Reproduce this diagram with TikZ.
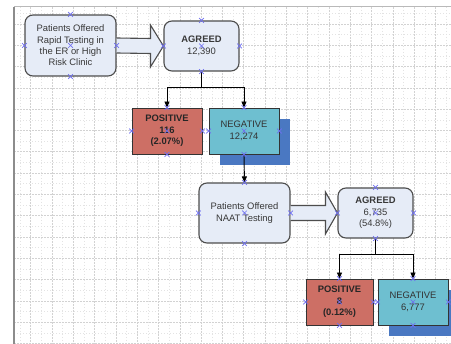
\documentclass[tikz,border=0pt]{standalone}
\usepackage{fontspec}
\setmainfont{Liberation Sans}
\usetikzlibrary{arrows.meta,calc,shapes.misc,shadows}
\definecolor{boxfill}{HTML}{E6ECF7}
\definecolor{boxline}{HTML}{4D4D4D}
\definecolor{posfill}{HTML}{CD6F65}
\definecolor{negfill}{HTML}{6EBFD0}
\definecolor{shadowblue}{HTML}{4A78C2}
\definecolor{markblue}{HTML}{6F6FF2}
\definecolor{txt}{HTML}{383838}
\begin{document}
\begin{tikzpicture}[x=1pt,y=-1pt,
  basefont/.style={font=\fontsize{9.4}{11.4}\selectfont},
  roundbox/.style={draw=boxline,line width=1.1pt,fill=boxfill,rounded corners=8pt,
    align=center,inner sep=0pt,text=txt,basefont},
  posbox/.style={draw=black!80,line width=0.9pt,fill=posfill,align=center,inner sep=0pt,
    text=black!85,font=\bfseries\fontsize{9.4}{11.4}\selectfont},
  negbox/.style={draw=black!80,line width=0.9pt,fill=negfill,align=center,inner sep=0pt,
    text=black!80,basefont,
    drop shadow={shadow xshift=11pt,shadow yshift=-11pt,fill=shadowblue,opacity=1}},
  blockarrow/.style={draw=boxline,line width=1.1pt,fill=boxfill,line join=miter},
  conn/.style={draw=black,line width=0.9pt,-{Triangle[length=6pt,width=5pt]}},
  plainconn/.style={draw=black,line width=0.9pt},
  xmark/.style={cross out,draw=markblue,line width=0.7pt,minimum size=4pt,inner sep=0pt},
  majorgrid/.style={draw=gray!35,line width=0.5pt,dash pattern=on 2pt off 1pt},
  minorgrid/.style={draw=gray!22,line width=0.4pt,dash pattern=on 1pt off 2pt}
]
\useasboundingbox (0,0) rectangle (451,344);
\fill[white] (0,0) rectangle (451,344);

% grid
\begin{scope}
  \clip (14,7) rectangle (451,344);
  \foreach \k in {0,...,21} {
    \draw[minorgrid] ({20.05+21.3*\k},7) -- ++(0,337);
    \draw[majorgrid] ({30.7+21.3*\k},7) -- ++(0,337);
  }
  \foreach \k in {0,...,16} {
    \draw[minorgrid] (14,{13.25+21.3*\k}) -- ++(437,0);
    \draw[majorgrid] (14,{23.9+21.3*\k}) -- ++(437,0);
  }
\end{scope}
\draw[gray!55,line width=1pt] (14,7) -- (451,7);
\draw[gray!90,line width=1.3pt] (14,7) -- (14,344);

% nodes
\node[roundbox,minimum width=91pt,minimum height=61pt] (b1) at (70.5,45.5)
  {Patients Offered\\Rapid Testing in\\the ER or High\\Risk Clinic};
\node[roundbox,minimum width=75pt,minimum height=50pt] (a1) at (201.5,46)
  {\textbf{AGREED}\\12,390};
\node[posbox,minimum width=70pt,minimum height=46pt] (p1) at (167,131)
  {POSITIVE\\116\\(2.07\%)};
\node[negbox,minimum width=70pt,minimum height=46pt] (n1) at (244,131)
  {NEGATIVE\\12,274};
\node[roundbox,minimum width=91pt,minimum height=60pt] (b2) at (244.5,213)
  {Patients Offered\\NAAT Testing};
\node[roundbox,minimum width=75pt,minimum height=50pt] (a2) at (375.5,213)
  {\textbf{AGREED}\\6,735\\(54.8\%)};
\node[posbox,minimum width=67pt,minimum height=46pt] (p2) at (339.5,302)
  {POSITIVE\\8\\(0.12\%)};
\node[negbox,minimum width=70pt,minimum height=46pt] (n2) at (413,302)
  {NEGATIVE\\6,777};

% block arrows
\draw[blockarrow] ($(b1.east)+(0,-7.5)$) -- ($(a1.west)+(-13,-7.5)$)
  -- ($(a1.west)+(-13,-21)$) -- (a1.west) -- ($(a1.west)+(-13,21)$)
  -- ($(a1.west)+(-13,7.5)$) -- ($(b1.east)+(0,7.5)$);
\draw[blockarrow] ($(b2.east)+(0,-7.5)$) -- ($(a2.west)+(-12,-7.5)$)
  -- ($(a2.west)+(-12,-21)$) -- (a2.west) -- ($(a2.west)+(-12,21)$)
  -- ($(a2.west)+(-12,7.5)$) -- ($(b2.east)+(0,7.5)$);

% connectors
\coordinate (j1) at ($(a1.south)+(0,15.5)$);
\draw[plainconn] (a1.south) -- (j1);
\draw[conn] (j1) -| (p1.north);
\draw[conn] (j1) -| (n1.north);
\draw[conn] (n1.south) -- (b2.north);
\coordinate (j2) at ($(a2.south)+(0,16)$);
\draw[plainconn] (a2.south) -- (j2);
\draw[conn] (j2) -| (p2.north);
\draw[conn] (j2) -| (n2.north);

% connection point markers
\foreach \n in {b1,a1,p1,n1,b2,a2,p2,n2}
  \foreach \a in {north,south,east,west,center}
    \node[xmark] at (\n.\a) {};
\end{tikzpicture}
\end{document}
